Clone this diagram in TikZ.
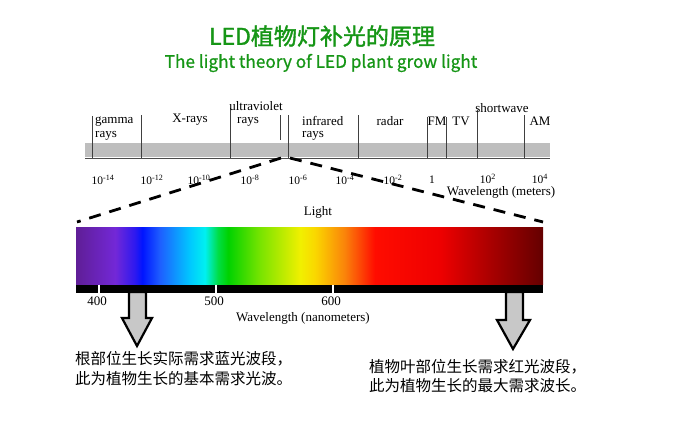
\documentclass[tikz,border=0pt]{standalone}
\usepackage{fontspec}
\setmainfont{Liberation Serif}
\newfontfamily\cjk{Noto Sans CJK SC}
\newfontfamily\cjktitle[FakeBold=1.6]{Noto Sans CJK SC}
\newfontfamily\cjksub[FakeBold=0.8]{Noto Sans CJK SC}
\definecolor{titlegreen}{RGB}{22,150,22}
\definecolor{bandgray}{RGB}{190,190,190}
\definecolor{arrowgray}{RGB}{200,200,200}
\definecolor{sa}{RGB}{95,30,150}
\definecolor{sb}{RGB}{115,40,215}
\definecolor{sc}{RGB}{45,25,240}
\definecolor{sd}{RGB}{0,20,255}
\definecolor{se}{RGB}{30,95,255}
\definecolor{sf}{RGB}{0,200,255}
\definecolor{sg}{RGB}{0,240,240}
\definecolor{sh}{RGB}{0,222,70}
\definecolor{si}{RGB}{0,210,0}
\definecolor{sj}{RGB}{120,228,0}
\definecolor{sk}{RGB}{240,240,0}
\definecolor{sl}{RGB}{250,215,0}
\definecolor{sm}{RGB}{250,130,10}
\definecolor{sn}{RGB}{255,12,0}
\definecolor{so}{RGB}{238,0,0}
\definecolor{sp}{RGB}{170,0,0}
\definecolor{sq}{RGB}{100,0,0}
\pgfdeclarehorizontalshading{spectrum}{100bp}{color(0bp)=(sa); color(25bp)=(sa); color(29.2bp)=(sb); color(31.3bp)=(sc); color(32.1bp)=(sd); color(34bp)=(se); color(37.2bp)=(sf); color(38.8bp)=(sg); color(40.2bp)=(sh); color(41.3bp)=(si); color(44.7bp)=(sj); color(49bp)=(sk); color(50.6bp)=(sl); color(53.8bp)=(sm); color(57bp)=(sn); color(64bp)=(so); color(69.3bp)=(sp); color(75bp)=(sq); color(100bp)=(sq)}
\begin{document}
\begin{tikzpicture}[x=1pt,y=-1pt,
  sep/.style={line width=0.9pt, draw=black!75},
  lab/.style={font=\fontsize{13}{13}\selectfont, inner sep=0pt},
  expo/.style={font=\fontsize{11.5}{11.5}\selectfont, inner sep=0pt},
  dashline/.style={line width=2.8pt, dash pattern=on 12pt off 9pt},
  cjktext/.style={font=\cjk\fontsize{15.5}{15.5}\selectfont, inner sep=0pt, anchor=west},
  blockarrow/.style={fill=arrowgray, draw=black, line width=2.2pt, line join=miter}]
\useasboundingbox (0,0) rectangle (696,431);
\fill[white] (0,0) rectangle (696,431);
% titles
\node (title) [font=\cjktitle\fontsize{23}{23}\selectfont, text=titlegreen, inner sep=0pt] at (322,36) {LED植物灯补光的原理};
\node (subtitle) [font=\cjksub\fontsize{17.2}{17.2}\selectfont, text=titlegreen, inner sep=0pt] at (321,63) {The light theory of LED plant grow light};
% electromagnetic band
\fill[bandgray] (85,143) rectangle (550,157);
\draw[line width=1pt, black!70] (85,158) -- (550,158);
\foreach \x/\t/\b in {92/116/158, 141/115/158, 230/108/158, 280/115/140, 288/115/158, 358/115/158, 427/117/158, 446/117/158, 477/110/158, 524/115/158}
  \draw[sep] (\x,\t) -- (\x,\b);
\node (gamma) [lab, anchor=west] at (95,122) {gamma};
\node (gammarays) [lab, anchor=west] at (95,136) {rays};
\node (xrays) [lab] at (190,120) {X-rays};
\node (uv) [lab] at (256,106.5) {ultraviolet};
\node (uvrays) [lab] at (248,122) {rays};
\node (ir) [lab, anchor=west] at (302,121) {infrared};
\node (irrays) [lab, anchor=west] at (302,136) {rays};
\node (radar) [lab] at (390,121) {radar};
\node (fm) [lab] at (437,121) {FM};
\node (tv) [lab] at (461,121) {TV};
\node (sw) [lab] at (502,108) {shortwave};
\node (am) [lab] at (540,121) {AM};
% exponents
\node (e1) [expo] at (103,180) {10\textsuperscript{-14}};
\node (e2) [expo] at (152,180) {10\textsuperscript{-12}};
\node (e3) [expo] at (199,180) {10\textsuperscript{-10}};
\node (e4) [expo] at (250,180) {10\textsuperscript{-8}};
\node (e5) [expo] at (298,180) {10\textsuperscript{-6}};
\node (e6) [expo] at (345,180) {10\textsuperscript{-4}};
\node (e7) [expo] at (393,180) {10\textsuperscript{-2}};
\node (e8) [expo] at (432,180) {1};
\node (e9) [expo] at (488,179) {10\textsuperscript{2}};
\node (e10) [expo] at (540,179) {10\textsuperscript{4}};
\node (wlm) [lab] at (501,192.5) {Wavelength (meters)};
% dashed zoom lines
\coordinate (zl) at (281,158);
\coordinate (zr) at (290,158);
\coordinate (sl) at (77,222);
\coordinate (sr) at (543,222);
\draw[dashline] (zl) -- (sl);
\draw[dashline] (zr) -- (sr);
\node (light) [lab] at (318,212) {Light};
% spectrum
\node (spec) [shading=spectrum, minimum width=467pt, minimum height=57pt, inner sep=0pt, draw=none] at (309.5,255.5) {};
\fill[black] (76,284.5) rectangle (543,293);
\foreach \x in {99,216,333} \draw[white, line width=1.4pt] (\x,284.5) -- (\x,293);
\node (n400) [lab] at (97,301) {400};
\node (n500) [lab] at (214,301) {500};
\node (n600) [lab] at (331,301) {600};
\node (wln) [lab] at (303,318) {Wavelength (nanometers)};
% block arrows
\draw[blockarrow] (129,292) -- (146,292) -- (146,318) -- (152,318) -- (137,346) -- (122,318) -- (129,318) -- cycle;
\draw[blockarrow] (506,292) -- (523,292) -- (523,320) -- (530,320) -- (513,349) -- (497,320) -- (506,320) -- cycle;
% explanations
\node (l1) [cjktext] at (75,359) {根部位生长实际需求蓝光波段，};
\node (l2) [cjktext] at (75,379) {此为植物生长的基本需求光波。};
\node (r1) [cjktext] at (369,367) {植物叶部位生长需求红光波段，};
\node (r2) [cjktext] at (369,386) {此为植物生长的最大需求波长。};
\end{tikzpicture}
\end{document}
